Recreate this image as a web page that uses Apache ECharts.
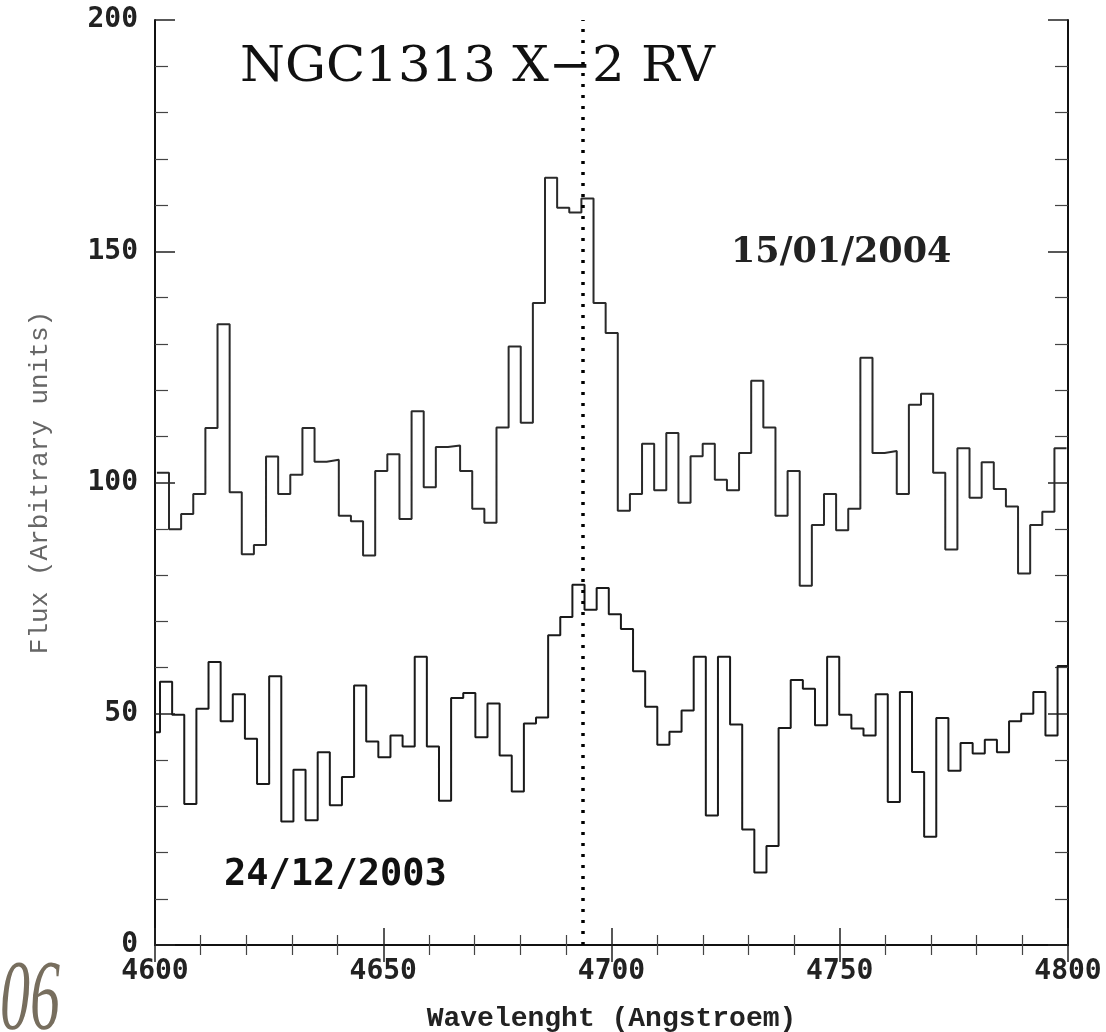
<!DOCTYPE html>
<html>
<head>
<meta charset="UTF-8">
<title>NGC1313 X-2 RV</title>
<script src="https://cdn.jsdelivr.net/npm/echarts@6/dist/echarts.min.js"></script>
<style>
  html, body { margin: 0; padding: 0; background: #fff; }
  #main { width: 1106px; height: 1032px; }
</style>
</head>
<body>
<div id="main"></div>
<script>
// wavelength grid of the two spectra (left edge of first bin, bin width in Angstroem)
var binWidth = 2.657;
var janStart = 4600.41;   // 15/01/2004
var decStart = 4598.44;   // 24/12/2003

// flux per bin, upper spectrum (15/01/2004)
var janFlux = [
  102.1, 89.9, 93.2, 97.5, 111.8, 134.2, 97.9, 84.5, 86.5, 105.6,
  97.5, 101.7, 111.8, 104.5, 104.9, 92.8, 91.6, 84.2, 102.5, 106.1,
  92.1, 115.4, 99.0, 107.7, 108.0, 102.5, 94.3, 91.3, 111.9, 129.4,
  112.9, 138.8, 165.9, 159.4, 158.4, 161.4, 138.8, 132.3, 93.9, 97.5,
  108.4, 98.3, 110.7, 95.6, 105.7, 108.4, 100.6, 98.3, 106.4, 122.0,
  111.9, 92.8, 102.5, 77.7, 90.8, 97.5, 89.7, 94.3, 127.0, 106.4,
  106.8, 97.5, 116.8, 119.2, 102.1, 85.5, 107.4, 96.7, 104.4, 98.6,
  94.8, 80.3, 90.8, 93.7, 107.4
];

// flux per bin, lower spectrum (24/12/2003)
var decFlux = [
  46.0, 56.9, 49.8, 30.5, 51.1, 61.2, 48.4, 54.2, 44.6, 34.8,
  58.1, 26.7, 37.9, 27.0, 41.7, 30.2, 36.3, 56.1, 44.0, 40.6,
  45.3, 42.9, 62.3, 42.9, 31.2, 53.4, 54.5, 44.9, 52.2, 41.0,
  33.2, 47.9, 49.2, 67.0, 70.9, 77.9, 72.5, 77.2, 71.5, 68.3,
  59.2, 51.5, 43.3, 46.1, 50.7, 62.3, 28.0, 62.3, 47.7, 25.0,
  15.7, 21.4, 46.9, 57.3, 55.4, 47.5, 62.3, 49.8, 46.8, 45.3,
  54.2, 30.9, 54.7, 37.4, 23.4, 49.1, 37.7, 43.7, 41.4, 44.4,
  41.7, 48.4, 50.0, 54.7, 45.3, 60.3
];

var heIIline = 4693.7;   // dotted reference line
var xTicks = [4600, 4650, 4700, 4750, 4800];
var yTicks = [0, 50, 100, 150, 200];

// histogram: one point per bin edge, step drawn by the library
function toSteps(start, flux) {
  var pts = [];
  for (var i = 0; i < flux.length; i++) {
    pts.push([start + i * binWidth, flux[i]]);
  }
  pts.push([start + flux.length * binWidth, flux[flux.length - 1]]);
  return pts;
}

var myChart = echarts.init(document.getElementById('main'));

var tickFont = 'DejaVu Sans Mono';
var frame = { show: true, lineStyle: { color: '#111', width: 2 } };

function xAx(pos, labels) {
  return {
    type: 'value', position: pos,
    min: xTicks[0], max: xTicks[xTicks.length - 1], interval: 50,
    axisLine: frame,
    axisTick: { show: true, inside: true, length: 17, lineStyle: { color: '#222', width: 1.5 } },
    minorTick: { show: true, splitNumber: 5, length: 10, lineStyle: { color: '#444', width: 1.2 } },
    splitLine: { show: false },
    axisLabel: labels ? {
      show: true, margin: 13, color: '#222', fontFamily: tickFont,
      fontWeight: 'bold', fontSize: 28,
      formatter: function (v) { return String(v); }
    } : { show: false }
  };
}

function yAx(pos, labels) {
  return {
    type: 'value', position: pos,
    min: yTicks[0], max: yTicks[yTicks.length - 1], interval: 50,
    axisLine: frame,
    axisTick: { show: true, inside: true, length: 20, lineStyle: { color: '#222', width: 1.5 } },
    minorTick: { show: true, splitNumber: 5, length: 13, lineStyle: { color: '#444', width: 1.2 } },
    splitLine: { show: false },
    axisLabel: labels ? {
      show: true, margin: 17, color: '#222', fontFamily: tickFont,
      fontWeight: 'bold', fontSize: 28
    } : { show: false }
  };
}

var bottomX = xAx('bottom', true);
bottomX.name = 'Wavelenght (Angstroem)';
bottomX.nameLocation = 'middle';
bottomX.nameGap = 60;
bottomX.nameTextStyle = { fontFamily: 'Liberation Mono', fontWeight: 'bold', fontSize: 28, color: '#222' };

var leftY = yAx('left', true);
leftY.name = 'Flux (Arbitrary units)';
leftY.nameLocation = 'middle';
leftY.nameGap = 102;
leftY.nameTextStyle = { fontFamily: 'Liberation Mono', fontSize: 26, color: '#666' };

var option = {
  backgroundColor: '#fff',
  animation: false,
  grid: { left: 155, right: 38, top: 20, bottom: 87, outerBoundsMode: 'none', containLabel: false },
  xAxis: [bottomX, xAx('top', false)],
  yAxis: [leftY, yAx('right', false)],
  series: [
    {
      name: '15/01/2004',
      type: 'line', step: 'end', showSymbol: false, clip: true,
      lineStyle: { color: '#2a2a2a', width: 2 },
      data: toSteps(janStart, janFlux),
      markLine: {
        silent: true, symbol: 'none', label: { show: false },
        lineStyle: { color: '#000', width: 3.5, type: [3, 8] },
        data: [{ xAxis: heIIline }]
      }
    },
    {
      name: '24/12/2003',
      type: 'line', step: 'end', showSymbol: false, clip: true,
      lineStyle: { color: '#1a1a1a', width: 2 },
      data: toSteps(decStart, decFlux)
    }
  ],
  graphic: [
    {
      type: 'text', left: 240, top: 45, scaleX: 1.07,
      style: { text: 'NGC1313 X\u22122 RV', font: '48px "DejaVu Serif"', fill: '#111' }
    },
    {
      type: 'text', left: 731, top: 235,
      style: { text: '15/01/2004', font: 'bold 35px "DejaVu Serif"', fill: '#222' }
    },
    {
      type: 'text', left: 224, top: 857,
      style: { text: '24/12/2003', font: 'bold 37px "DejaVu Sans Mono"', fill: '#111' }
    },
    {
      type: 'text', left: 0, top: 952, scaleX: 0.6,
      style: { text: '06', font: 'italic 100px "Liberation Serif"', fill: '#776e5e' }
    }
  ]
};

myChart.setOption(option, true);
</script>
</body>
</html>
